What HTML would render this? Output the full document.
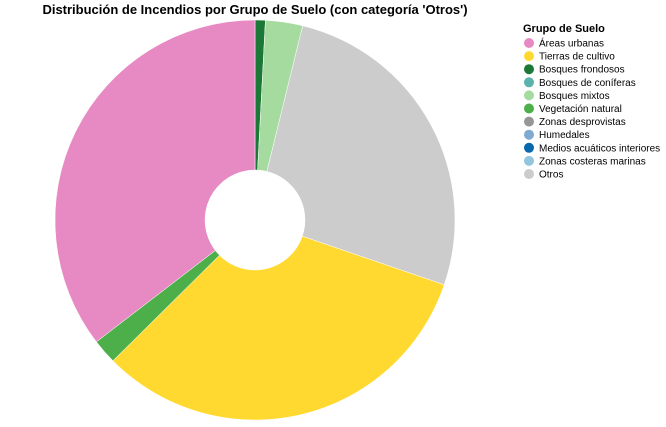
<!DOCTYPE html>
<html><head><meta charset="utf-8"><style>
body{margin:0;background:#fff;}
svg{font-family:"Liberation Sans",Arial,sans-serif;display:block}
</style></head><body>
<svg id="c" width="666" height="427">
<text x="255" y="14" text-anchor="middle" font-size="13" font-weight="bold">Distribución de Incendios por Grupo de Suelo (con categoría 'Otros')</text>
<g id="pie"></g>
<g id="legend">
<text x="523" y="32" font-size="11" font-weight="bold">Grupo de Suelo</text>
</g>
</svg>
<script>
const sliceLabels=["Bosques frondosos","Bosques mixtos","Otros","Tierras de cultivo","Vegetación natural","Áreas urbanas"];
const sliceValues=[0.83,3.0,26.4,32.3,2.0,35.4];
const legendLabels=["Áreas urbanas","Tierras de cultivo","Bosques frondosos","Bosques de coníferas","Bosques mixtos","Vegetación natural","Zonas desprovistas","Humedales","Medios acuáticos interiores","Zonas costeras marinas","Otros"];
const legendColors=["#e78ac3","#ffd92f","#1b7837","#5ab4ac","#a6dba0","#4daf4a","#969696","#7fa9d0","#0868ac","#92c5de","#cccccc"];
const ns="http://www.w3.org/2000/svg";
const cx=255,cy=220,R=200,r=50;
const colorOf=l=>legendColors[legendLabels.indexOf(l)];
const pie=document.getElementById('pie');
const total=sliceValues.reduce((a,b)=>a+b,0);
let a0=0;
function pt(a,rad){return [cx+rad*Math.sin(a),cy-rad*Math.cos(a)];}
sliceValues.forEach((v,i)=>{
  const a1=a0+v/total*2*Math.PI;
  const [x0,y0]=pt(a0,R),[x1,y1]=pt(a1,R),[x2,y2]=pt(a1,r),[x3,y3]=pt(a0,r);
  const lg=(a1-a0)>Math.PI?1:0;
  const p=document.createElementNS(ns,'path');
  p.setAttribute('d',`M${x0},${y0}A${R},${R} 0 ${lg} 1 ${x1},${y1}L${x2},${y2}A${r},${r} 0 ${lg} 0 ${x3},${y3}Z`);
  p.setAttribute('fill',colorOf(sliceLabels[i]));
  p.setAttribute('stroke','#fff');p.setAttribute('stroke-width','0.5');
  
  
  pie.appendChild(p);a0=a1;
});
const lg=document.getElementById('legend');
legendLabels.forEach((l,i)=>{
  const y=43+i*13.1;
  const c=document.createElementNS(ns,'circle');
  c.setAttribute('cx',529);c.setAttribute('cy',y);c.setAttribute('r',5);c.setAttribute('fill',legendColors[i]);
  
  
  lg.appendChild(c);
  const t=document.createElementNS(ns,'text');
  t.setAttribute('x',539);t.setAttribute('y',y+3.5);t.setAttribute('font-size','10');t.textContent=l;
  
  
  lg.appendChild(t);
});
</script>
</body></html>
